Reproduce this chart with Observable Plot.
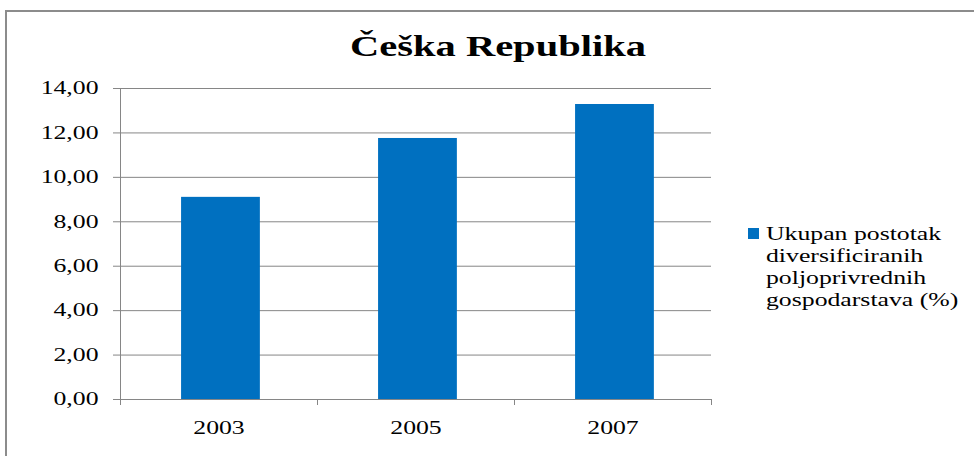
<!DOCTYPE html>
<html><head><meta charset="utf-8">
<script src="https://cdn.jsdelivr.net/npm/d3@7"></script>
<script src="https://cdn.jsdelivr.net/npm/@observablehq/plot@0.6"></script>
<style>
body{margin:0;background:#fff;overflow:hidden;}
#wrap{position:relative;width:974px;height:456px;overflow:hidden;font-family:"Liberation Serif","Times New Roman",serif;color:#000;}
#frame{position:absolute;left:5px;top:10px;width:2000px;height:2000px;border-top:2px solid #8c8c8c;border-left:2px solid #8c8c8c;z-index:3;pointer-events:none;}
#title{position:relative;height:76px;}
#title span{position:absolute;left:498px;top:31px;font-size:30px;font-weight:bold;line-height:1;white-space:nowrap;transform:translateX(-50%) scaleX(1.35);}
#legend{position:absolute;left:748px;top:223px;z-index:2;}
#legend .sw{position:absolute;left:0;top:5px;width:11px;height:11px;background:#0070C0;}
#legend .lines{position:absolute;left:18px;top:0;}
#legend .ln{font-size:18px;line-height:22px;white-space:nowrap;transform:scaleX(1.43);transform-origin:left center;}
#chart{position:relative;}
</style>
</head><body>
<div id="wrap">
  <div id="frame"></div>
  <div id="title"><span></span></div>
  <div id="chart"></div>
  <div id="legend"><div class="sw"></div><div class="lines"></div></div>
</div>
<script>
const titleText = "Češka Republika";
const years = ["2003", "2005", "2007"];
const values = [9.1, 11.75, 13.28];
const yTicks = [0, 2, 4, 6, 8, 10, 12, 14];
const xBoundaries = [0, 1, 2, 3];
const xLabelPos = [0.5, 1.5, 2.5];
const legendLines = ["Ukupan postotak", "diversificiranih", "poljoprivrednih", "gospodarstava (%)"];

const data = years.map((year, i) => ({year, value: values[i], i}));

document.querySelector("#title span").textContent = titleText;
const lines = document.querySelector("#legend .lines");
legendLines.forEach(t => { const d = document.createElement("div"); d.className = "ln"; d.textContent = t; lines.appendChild(d); });

const grid = "#868686";
const chart = Plot.plot({
  width: 974,
  height: 380,
  marginLeft: 120,
  marginRight: 263,
  marginTop: 12,
  marginBottom: 57,
  style: {background: "transparent", fontFamily: "'Liberation Serif', 'Times New Roman', serif", fontSize: "18px", color: "#000"},
  x: {domain: [0, 3], axis: null, label: null},
  y: {domain: [0, 14], axis: null, label: null},
  marks: [
    Plot.ruleY(yTicks, {stroke: grid, strokeWidth: 1}),
    Plot.rectY(data, {x1: d => d.i + 0.31, x2: d => d.i + 0.71, y1: 0, y2: "value", fill: "#0070C0"}),
    Plot.ruleX([0], {y1: 0, y2: 14, stroke: grid}),
    Plot.axisY({ticks: yTicks, label: null, tickSize: 7, tickPadding: 15, stroke: grid, tickFormat: d => d.toFixed(2).replace(".", ",")}),
    Plot.axisX({ticks: xBoundaries, label: null, tickSize: 6, stroke: grid, tickFormat: () => ""}),
    Plot.axisX({ticks: xLabelPos, label: null, tickSize: 0, tickPadding: 22, tickFormat: d => years[Math.floor(d)]})
  ]
});
chart.querySelectorAll('g[aria-label$="tick label"] text').forEach(t => {
  t.setAttribute("transform", (t.getAttribute("transform") || "") + " scale(1.43,1)");
});
document.getElementById("chart").appendChild(chart);
</script>
</body></html>
